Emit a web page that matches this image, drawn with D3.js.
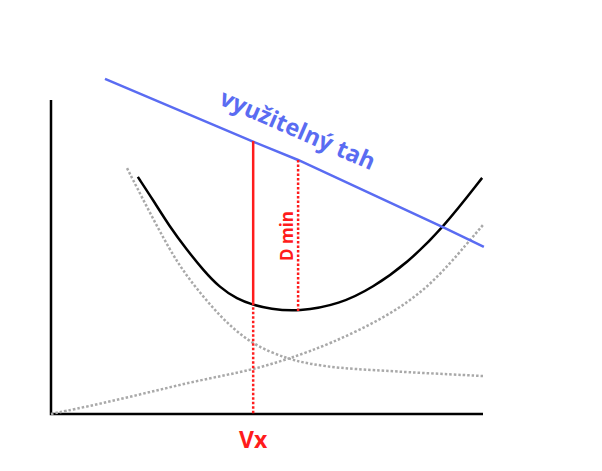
<!DOCTYPE html>
<html>
<head>
<meta charset="utf-8">
<script src="https://cdn.jsdelivr.net/npm/d3@7"></script>
<style>
  html, body { margin: 0; padding: 0; background: #fff; }
  svg { display: block; }
  text { font-family: "Open Sans", "Noto Sans", sans-serif; font-weight: 700; }
</style>
</head>
<body>
<svg id="chart" width="602" height="471"></svg>
<script>
// Data (arbitrary units: speed 0..100, force 0..100)
const thrustX = [12.5, 46.5, 57.2, 91.2, 100.2];
const thrustY = [106.7, 86.9, 80.9, 59.2, 53.2];

const totalDragX = [20.1, 23.6, 27.5, 31.5, 35.2, 39.1, 43.1, 46.8, 50.7, 57.2, 66.9, 74.5, 82.4, 90.7, 99.8];
const totalDragY = [75.5, 68.2, 59.6, 52.2, 45.9, 40.2, 36.6, 34.7, 33.5, 32.6, 35.0, 40.3, 48.0, 59.2, 75.2];

const inducedX = [17.6, 22.2, 27.5, 31.5, 39.1, 46.5, 54.9, 60.0, 66.9, 74.5, 85.4, 100.0];
const inducedY = [78.3, 65.9, 52.2, 43.6, 30.9, 22.0, 17.5, 15.9, 14.6, 14.0, 13.1, 12.1];

const parasiteX = [0, 11.3, 22.9, 34.5, 46.5, 54.9, 64.6, 77.3, 87.7, 97.0, 100.0];
const parasiteY = [0, 3.2, 7.0, 10.8, 14.0, 17.5, 22.3, 30.6, 40.4, 55.4, 60.2];

const vxSpeed = 46.8, vxThrust = 86.9, vxDrag = 35.4;
const dminSpeed = 57.2, dminThrust = 80.9, dminDrag = 32.8;

const labels = { thrust: "využitelný tah", dmin: "D min", vx: "Vx" };

const svg = d3.select("#chart");
const x = d3.scaleLinear().domain([0, 100]).range([51, 483]);
const y = d3.scaleLinear().domain([0, 100]).range([414, 100]);

const BLUE = "#5a6cf2", RED = "#ff1c1c", GRAY = "#a9a9a9";

const zip = (xs, ys) => xs.map((v, i) => [v, ys[i]]);
const line = d3.line().x(d => x(d[0])).y(d => y(d[1]));
const smoothB = d3.line().x(d => x(d[0])).y(d => y(d[1])).curve(d3.curveBasis);

// axes
svg.append("path")
  .attr("d", line([[0, 100], [0, 0], [100, 0]]))
  .attr("fill", "none").attr("stroke", "#000").attr("stroke-width", 2.5);

// gray dotted component curves
svg.append("path").attr("d", smoothB(zip(inducedX, inducedY)))
  .attr("fill", "none").attr("stroke", GRAY).attr("stroke-width", 2.5)
  .attr("stroke-dasharray", "2.5,2");
svg.append("path").attr("d", smoothB(zip(parasiteX, parasiteY)))
  .attr("fill", "none").attr("stroke", GRAY).attr("stroke-width", 2.5)
  .attr("stroke-dasharray", "2.5,2");

// total drag
svg.append("path").attr("d", smoothB(zip(totalDragX, totalDragY)))
  .attr("fill", "none").attr("stroke", "#000").attr("stroke-width", 2.5);

// thrust line
svg.append("path").attr("d", line(zip(thrustX, thrustY)))
  .attr("fill", "none").attr("stroke", BLUE).attr("stroke-width", 2.5);

// Vx lines
svg.append("line")
  .attr("x1", x(vxSpeed)).attr("x2", x(vxSpeed))
  .attr("y1", y(vxThrust)).attr("y2", y(vxDrag))
  .attr("stroke", RED).attr("stroke-width", 2.5);
svg.append("line")
  .attr("x1", x(vxSpeed)).attr("x2", x(vxSpeed))
  .attr("y1", y(vxDrag)).attr("y2", y(0))
  .attr("stroke", RED).attr("stroke-width", 2.5).attr("stroke-dasharray", "2.5,2");

// Dmin line
svg.append("line")
  .attr("x1", x(dminSpeed)).attr("x2", x(dminSpeed))
  .attr("y1", y(dminThrust)).attr("y2", y(dminDrag))
  .attr("stroke", RED).attr("stroke-width", 2.5).attr("stroke-dasharray", "2.5,2");

// labels
svg.append("text")
  .attr("transform", "translate(218,104) rotate(23.5)")
  .attr("fill", BLUE).attr("font-size", 23.5).text(labels.thrust);

svg.append("text")
  .attr("transform", `translate(${x(dminSpeed) - 5},236) rotate(-90)`)
  .attr("text-anchor", "middle")
  .attr("fill", RED).attr("font-size", 17).text(labels.dmin);

svg.append("text")
  .attr("x", x(vxSpeed)).attr("y", 448)
  .attr("text-anchor", "middle")
  .attr("fill", RED).attr("font-size", 23).text(labels.vx);
</script>
</body>
</html>
